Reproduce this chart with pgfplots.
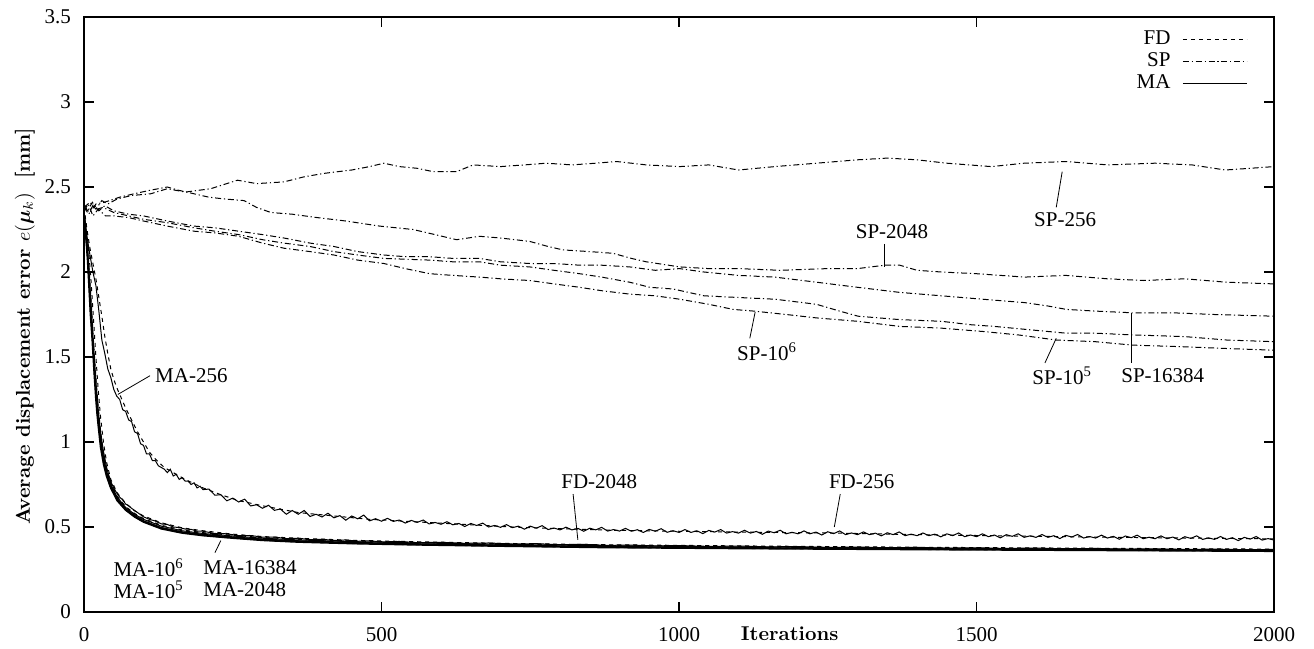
\documentclass[border=0pt]{standalone}
\usepackage{fontspec}
\setmainfont{Liberation Serif}
\newfontfamily\cmbf{lmroman10-bold.otf}
\usepackage{bm}
\usepackage{pgfplots}
\pgfplotsset{compat=1.18}

\newcommand{\lab}{\fontsize{10.5}{12}\selectfont}
\tikzset{
  fd/.style={black,line width=0.5pt,dash pattern=on 2pt off 2pt},
  sp/.style={black,line width=0.5pt,dash pattern=on 3pt off 1.4pt on 0.6pt off 1.4pt},
  ma/.style={black,line width=0.5pt},
  lbl/.style={font=\lab,inner sep=0pt},
  ptr/.style={black,line width=0.4pt}
}

\begin{document}
\begin{tikzpicture}
\begin{axis}[
  scale only axis,
  width=595pt, height=297.5pt,
  xmin=0, xmax=2000, ymin=0, ymax=3.5,
  xtick={0,500,1000,1500,2000},
  ytick={0,0.5,1,1.5,2,2.5,3,3.5},
  tick align=inside,
  major tick length=5pt,
  axis line style={line width=1pt},
  every tick/.style={black,line width=0.6pt},
  tick label style={font=\lab},
  /pgf/number format/assume math mode=true,
  /pgf/number format/set thousands separator={},
  yticklabel style={xshift=-3pt},
  xticklabel style={yshift=-4pt},
  xlabel={\cmbf Iterations},
  xlabel style={at={(axis description cs:0.593,0)},anchor=north,yshift=-4pt,font=\fontsize{10}{12}\selectfont},
  ylabel={\cmbf Average displacement error $e(\bm{\mu}_k)$\hspace{0.7em}[mm]},
  ylabel style={at={(ticklabel cs:0.48)},font=\fontsize{10}{12}\selectfont,yshift=-2pt},
  legend style={draw=none,fill=none,at={(rel axis cs:0.978,0.984)},anchor=north east,
    font=\lab,inner sep=0pt,row sep=-1.5pt},
  legend cell align=right,
  legend plot pos=right,
  legend image code/.code={\path (0pt,0pt); \draw[#1] (4pt,0pt) -- (36pt,0pt);},
]
\addlegendimage{fd}\addlegendentry{FD}
\addlegendimage{sp}\addlegendentry{SP}
\addlegendimage{ma}\addlegendentry{MA}

% ---------- SP (dash-dot) ----------
% SP-256
\addplot[sp,forget plot] coordinates {
(0,2.38) (10,2.41) (20,2.37) (30,2.42) (40,2.40) (56,2.43) (80,2.45) (112,2.46)
(140,2.49) (170,2.47) (213,2.49) (240,2.52) (258,2.54) (290,2.52) (336,2.53)
(370,2.56) (403,2.58) (450,2.60) (480,2.62) (504,2.64) (530,2.62) (560,2.61)
(587,2.59) (626,2.59) (654,2.63) (700,2.62) (740,2.63) (777,2.64) (820,2.63)
(860,2.64) (895,2.65) (945,2.63) (1001,2.62) (1050,2.63) (1100,2.60) (1161,2.62)
(1231,2.64) (1300,2.66) (1350,2.67) (1400,2.66) (1450,2.64) (1525,2.62) (1580,2.64)
(1651,2.65) (1720,2.63) (1800,2.64) (1862,2.63) (1918,2.60) (1960,2.61) (2000,2.62)
};
% SP-2048
\addplot[sp,forget plot] coordinates {
(0,2.38) (10,2.35) (20,2.40) (34,2.41) (60,2.44) (84,2.46) (110,2.48) (140,2.50)
(160,2.48) (185,2.46) (210,2.44) (235,2.43) (269,2.42) (290,2.38) (314,2.35)
(350,2.34) (392,2.32) (440,2.30) (497,2.27) (553,2.25) (590,2.22) (626,2.19)
(665,2.21) (700,2.20) (749,2.18) (780,2.15) (805,2.13) (850,2.12) (889,2.11)
(920,2.08) (945,2.06) (1001,2.03) (1050,2.02) (1100,2.02) (1170,2.01) (1250,2.02)
(1300,2.02) (1346,2.04) (1371,2.04) (1400,2.01) (1441,2.00) (1500,1.99) (1581,1.97)
(1650,1.98) (1720,1.96) (1781,1.95) (1850,1.96) (1920,1.94) (2000,1.93)
};
% SP-16384
\addplot[sp,forget plot] coordinates {
(0,2.38) (8,2.34) (16,2.40) (25,2.36) (35,2.39) (50,2.36) (75,2.34) (100,2.33)
(140,2.30) (185,2.27) (220,2.26) (260,2.24) (300,2.22) (336,2.20) (380,2.17)
(420,2.15) (460,2.12) (504,2.10) (540,2.09) (581,2.09) (620,2.08) (665,2.08)
(700,2.06) (749,2.05) (790,2.05) (833,2.04) (870,2.04) (917,2.03) (960,2.01)
(1001,2.02) (1042,2.00) (1100,1.98) (1161,1.97) (1231,1.94) (1300,1.91) (1371,1.88)
(1441,1.86) (1510,1.84) (1581,1.82) (1620,1.80) (1651,1.78) (1700,1.77) (1762,1.76)
(1830,1.76) (1900,1.75) (2000,1.74)
};
% SP-10^6
\addplot[sp,forget plot] coordinates {
(0,2.40) (6,2.36) (14,2.41) (22,2.37) (32,2.38) (50,2.35) (75,2.33) (100,2.31)
(140,2.29) (185,2.26) (220,2.24) (260,2.22) (300,2.19) (336,2.17) (380,2.15)
(420,2.12) (460,2.10) (504,2.08) (581,2.07) (620,2.06) (665,2.06) (700,2.04)
(749,2.03) (790,2.01) (833,1.99) (870,1.97) (917,1.94) (951,1.91) (990,1.90)
(1042,1.86) (1100,1.85) (1161,1.84) (1231,1.81) (1270,1.77) (1301,1.74) (1371,1.72)
(1441,1.71) (1490,1.69) (1530,1.68) (1590,1.66) (1651,1.64) (1700,1.64) (1762,1.63)
(1850,1.62) (1920,1.60) (2000,1.59)
};
% SP-10^5
\addplot[sp,forget plot] coordinates {
(0,2.36) (7,2.40) (15,2.33) (24,2.37) (36,2.33) (50,2.33) (75,2.32) (100,2.30)
(140,2.27) (185,2.24) (220,2.23) (260,2.21) (300,2.17) (336,2.14) (380,2.12)
(420,2.10) (460,2.07) (504,2.05) (540,2.02) (581,1.99) (620,1.98) (665,1.97)
(700,1.96) (749,1.95) (790,1.93) (833,1.91) (870,1.89) (917,1.87) (960,1.86)
(1001,1.84) (1050,1.81) (1091,1.78) (1126,1.77) (1180,1.75) (1231,1.73) (1300,1.71)
(1371,1.68) (1440,1.67) (1511,1.65) (1570,1.63) (1634,1.60) (1700,1.59) (1762,1.57)
(1850,1.56) (1920,1.55) (2000,1.54)
};

% ---------- MA (solid) ----------
% MA-10^6
\addplot[ma,line width=0.9pt,forget plot] coordinates {
(0,2.33) (3,2.22) (6,2.08) (8,1.95) (11,1.75) (14,1.60) (17,1.42) (20,1.26)
(22,1.17) (24,1.10) (28,0.97) (33,0.87) (38,0.80) (45,0.73) (56,0.655) (70,0.60)
(85,0.56) (100,0.53) (130,0.49) (165,0.465) (200,0.45) (250,0.435) (300,0.422)
(360,0.412) (450,0.403) (550,0.396) (700,0.388) (870,0.380) (1100,0.374)
(1400,0.368) (1700,0.363) (2000,0.358)
};
% MA-10^5
\addplot[ma,line width=0.7pt,forget plot] coordinates {
(0,2.33) (3,2.23) (6,2.10) (9,1.92) (12,1.74) (15,1.57) (18,1.40) (21,1.25)
(24,1.13) (28,1.01) (33,0.90) (38,0.82) (45,0.745) (56,0.665) (70,0.607)
(85,0.567) (100,0.536) (130,0.496) (165,0.471) (200,0.456) (250,0.441) (300,0.428)
(360,0.418) (450,0.409) (550,0.401) (700,0.393) (870,0.385) (1100,0.378)
(1400,0.372) (1700,0.367) (2000,0.362)
};
% MA-16384
\addplot[ma,forget plot] coordinates {
(0,2.33) (4,2.20) (8,2.00) (12,1.78) (16,1.53) (20,1.32) (24,1.15) (28,1.02)
(33,0.90) (38,0.825) (45,0.75) (56,0.675) (70,0.615) (85,0.575) (100,0.545)
(130,0.505) (165,0.478) (200,0.462) (250,0.447) (300,0.434) (360,0.424)
(450,0.414) (550,0.407) (700,0.398) (870,0.390) (1100,0.383) (1400,0.376)
(1700,0.370) (2000,0.365)
};
% MA-2048
\addplot[ma,forget plot] coordinates {
(0,2.33) (3,2.24) (6,2.12) (9,1.97) (12,1.80) (15,1.62) (18,1.46) (21,1.31)
(24,1.19) (27,1.08) (30,1.00) (34,0.92) (38,0.85) (42,0.80) (46,0.76) (50,0.73)
(55,0.70) (60,0.675) (65,0.66) (70,0.635) (75,0.625) (80,0.61) (90,0.585)
(100,0.56) (110,0.545) (120,0.535) (130,0.518) (140,0.515) (150,0.50) (160,0.497)
(170,0.488) (180,0.486) (190,0.476) (200,0.475) (220,0.462) (240,0.460)
(260,0.449) (280,0.450) (300,0.440) (320,0.441) (340,0.432) (360,0.434)
(380,0.426) (400,0.428) (420,0.421) (440,0.424) (460,0.416) (480,0.419)
(500,0.412) (530,0.415) (560,0.408) (600,0.410) (640,0.404) (680,0.406)
(720,0.400) (760,0.402) (800,0.396) (840,0.398) (880,0.392) (920,0.394)
(960,0.389) (1000,0.391) (1050,0.386) (1100,0.388) (1150,0.383) (1200,0.385)
(1250,0.380) (1300,0.382) (1350,0.378) (1400,0.380) (1450,0.376) (1500,0.378)
(1550,0.374) (1600,0.376) (1650,0.372) (1700,0.374) (1750,0.370) (1800,0.372)
(1850,0.368) (1900,0.370) (1950,0.367) (2000,0.368)
};
% MA-256
\addplot[ma,forget plot] coordinates {
(0,2.33) (5,2.21) (10,2.10) (15,2.00) (20,1.92) (25,1.77) (30,1.60) (35,1.52)
(40,1.43) (45,1.38) (50,1.31) (55,1.27) (60,1.25) (65,1.19) (70,1.18) (75,1.13)
(80,1.12) (85,1.06) (90,1.05) (95,0.99) (100,0.98) (105,0.93) (110,0.93)
(115,0.89) (120,0.89) (125,0.86) (130,0.85) (135,0.84) (140,0.82) (145,0.84)
(150,0.80) (155,0.81) (160,0.78) (165,0.79) (170,0.77) (175,0.77) (180,0.75)
(185,0.76) (190,0.73) (195,0.74) (200,0.72)
(210,0.723) (220,0.687) (230,0.690) (240,0.654) (250,0.670) (260,0.647) (270,0.664)
(280,0.624) (290,0.631) (300,0.610) (310,0.628) (320,0.598) (330,0.606) (340,0.575)
(350,0.597) (360,0.575) (370,0.597) (380,0.562) (390,0.575) (400,0.559) (410,0.581)
(420,0.554) (430,0.567) (440,0.540) (450,0.565) (460,0.548) (470,0.570) (480,0.536)
(490,0.549) (500,0.534) (510,0.551) (520,0.533) (530,0.541) (540,0.523) (550,0.539)
(560,0.527) (570,0.541) (580,0.518) (590,0.527) (600,0.516) (610,0.531) (620,0.513)
(630,0.521) (640,0.503) (650,0.521) (660,0.509) (670,0.523) (680,0.500) (690,0.509)
(700,0.498) (710,0.514) (720,0.496) (730,0.505) (740,0.487) (750,0.505) (760,0.493)
(770,0.508) (780,0.485) (790,0.494) (800,0.483) (810,0.499) (820,0.483) (830,0.492)
(840,0.475) (850,0.493) (860,0.483) (870,0.498) (880,0.476) (890,0.485) (900,0.476)
(910,0.492) (920,0.475) (930,0.484) (940,0.468) (950,0.486) (960,0.475) (970,0.490)
(980,0.469) (990,0.478) (1000,0.468) (1010,0.485) (1020,0.468) (1030,0.478)
(1040,0.461) (1050,0.480) (1060,0.470) (1070,0.485) (1080,0.464) (1090,0.473)
(1100,0.464) (1110,0.481) (1120,0.464) (1130,0.474) (1140,0.457) (1150,0.476)
(1160,0.466) (1170,0.481) (1180,0.460) (1190,0.469) (1200,0.460) (1210,0.477)
(1220,0.460) (1230,0.470) (1240,0.453) (1250,0.472) (1260,0.461) (1270,0.477)
(1280,0.455) (1290,0.465) (1300,0.455) (1310,0.471) (1320,0.455) (1330,0.464)
(1340,0.448) (1350,0.466) (1360,0.455) (1370,0.471) (1380,0.449) (1390,0.458)
(1400,0.449) (1410,0.465) (1420,0.449) (1430,0.458) (1440,0.442) (1450,0.460)
(1460,0.449) (1470,0.465) (1480,0.443) (1490,0.453) (1500,0.443) (1510,0.460)
(1520,0.443) (1530,0.453) (1540,0.436) (1550,0.455) (1560,0.445) (1570,0.460)
(1580,0.439) (1590,0.448) (1600,0.439) (1610,0.456) (1620,0.439) (1630,0.449)
(1640,0.432) (1650,0.451) (1660,0.441) (1670,0.456) (1680,0.435) (1690,0.444)
(1700,0.435) (1710,0.452) (1720,0.435) (1730,0.445) (1740,0.428) (1750,0.447)
(1760,0.437) (1770,0.452) (1780,0.431) (1790,0.440) (1800,0.431) (1810,0.448)
(1820,0.431) (1830,0.441) (1840,0.424) (1850,0.443) (1860,0.433) (1870,0.448)
(1880,0.427) (1890,0.436) (1900,0.427) (1910,0.444) (1920,0.427) (1930,0.437)
(1940,0.420) (1950,0.439) (1960,0.429) (1970,0.444) (1980,0.423) (1990,0.432)
(2000,0.423)
};

% ---------- FD (dashed) ----------
% FD-256
\addplot[fd,forget plot] coordinates {
(0,2.38) (5,2.25) (10,2.14) (15,2.05) (20,1.96) (25,1.85) (30,1.74) (35,1.62)
(40,1.52) (45,1.43) (50,1.37) (55,1.32) (60,1.28) (70,1.20) (80,1.13) (90,1.06)
(100,1.00) (110,0.94) (120,0.90) (135,0.85) (150,0.82) (170,0.78) (200,0.73)
(230,0.69) (260,0.655) (300,0.625) (360,0.585) (420,0.565) (480,0.545) (560,0.53)
(640,0.515) (720,0.50) (800,0.49) (900,0.48) (1000,0.475) (1100,0.47) (1250,0.465)
(1400,0.455) (1500,0.45) (1650,0.443) (1800,0.437) (2000,0.43)
};
% FD-2048
\addplot[fd,forget plot] coordinates {
(0,2.38) (4,2.27) (8,2.12) (12,1.94) (16,1.72) (20,1.50) (24,1.30) (28,1.14)
(33,0.99) (38,0.88) (45,0.78) (56,0.70) (70,0.64) (85,0.595) (100,0.565)
(130,0.525) (165,0.495) (200,0.478) (250,0.458) (300,0.444) (360,0.434)
(450,0.422) (550,0.414) (700,0.404) (870,0.396) (1100,0.389) (1400,0.381)
(1700,0.375) (2000,0.370)
};
% FD-16384
\addplot[fd,forget plot] coordinates {
(0,2.36) (4,2.23) (8,2.05) (12,1.83) (16,1.59) (20,1.38) (24,1.20) (28,1.06)
(33,0.93) (38,0.84) (45,0.76) (56,0.68) (70,0.62) (85,0.58) (100,0.55)
(130,0.51) (165,0.483) (200,0.467) (250,0.451) (300,0.438) (360,0.428)
(450,0.418) (550,0.410) (700,0.401) (870,0.393) (1100,0.386) (1400,0.378)
(1700,0.372) (2000,0.367)
};
% FD-10^5
\addplot[fd,forget plot] coordinates {
(0,2.35) (3,2.24) (6,2.11) (9,1.93) (12,1.75) (15,1.58) (18,1.41) (21,1.26)
(24,1.14) (28,1.01) (33,0.90) (38,0.82) (45,0.745) (56,0.665) (70,0.607)
(85,0.567) (100,0.536) (130,0.496) (165,0.471) (200,0.456) (250,0.441) (300,0.428)
(360,0.418) (450,0.409) (550,0.401) (700,0.393) (870,0.385) (1100,0.378)
(1400,0.372) (1700,0.367) (2000,0.362)
};
% FD-10^6
\addplot[fd,forget plot] coordinates {
(0,2.35) (3,2.23) (6,2.09) (8,1.96) (11,1.76) (14,1.61) (17,1.43) (20,1.27)
(22,1.18) (24,1.11) (28,0.98) (33,0.88) (38,0.80) (45,0.73) (56,0.655) (70,0.60)
(85,0.56) (100,0.53) (130,0.49) (165,0.465) (200,0.45) (250,0.435) (300,0.422)
(360,0.412) (450,0.403) (550,0.396) (700,0.388) (870,0.380) (1100,0.374)
(1400,0.368) (1700,0.363) (2000,0.358)
};

% ---------- labels ----------
\node[lbl,anchor=west] at (axis cs:119,1.39) {MA-256};
\draw[ptr] (axis cs:111,1.39) -- (axis cs:57,1.28);
\node[lbl,anchor=west] at (axis cs:49,0.26) {MA-10\textsuperscript{6}};
\node[lbl,anchor=west] at (axis cs:49,0.13) {MA-10\textsuperscript{5}};
\node[lbl,anchor=west] at (axis cs:200,0.26) {MA-16384};
\node[lbl,anchor=west] at (axis cs:200,0.13) {MA-2048};
\draw[ptr] (axis cs:220,0.349) -- (axis cs:230,0.42);
\node[lbl] at (axis cs:866,0.765) {FD-2048};
\draw[ptr] (axis cs:822,0.694) -- (axis cs:830,0.424);
\node[lbl] at (axis cs:1307,0.765) {FD-256};
\draw[ptr] (axis cs:1271,0.694) -- (axis cs:1261,0.50);
\node[lbl] at (axis cs:1649,2.306) {SP-256};
\draw[ptr] (axis cs:1644,2.59) -- (axis cs:1634,2.38);
\node[lbl] at (axis cs:1358,2.235) {SP-2048};
\draw[ptr] (axis cs:1346,2.165) -- (axis cs:1346,2.03);
\node[lbl] at (axis cs:1148,1.53) {SP-10\textsuperscript{6}};
\draw[ptr] (axis cs:1119,1.61) -- (axis cs:1128,1.765);
\node[lbl] at (axis cs:1644,1.39) {SP-10\textsuperscript{5}};
\draw[ptr] (axis cs:1615,1.465) -- (axis cs:1634,1.61);
\node[lbl] at (axis cs:1813,1.39) {SP-16384};
\draw[ptr] (axis cs:1761,1.465) -- (axis cs:1761,1.76);
\end{axis}
\path (current axis.south west) ++(-42pt,-18pt) coordinate (bl);
\path (current axis.north east) ++(20pt,8.5pt) coordinate (tr);
\path (bl) rectangle (tr);
\end{tikzpicture}
\end{document}
